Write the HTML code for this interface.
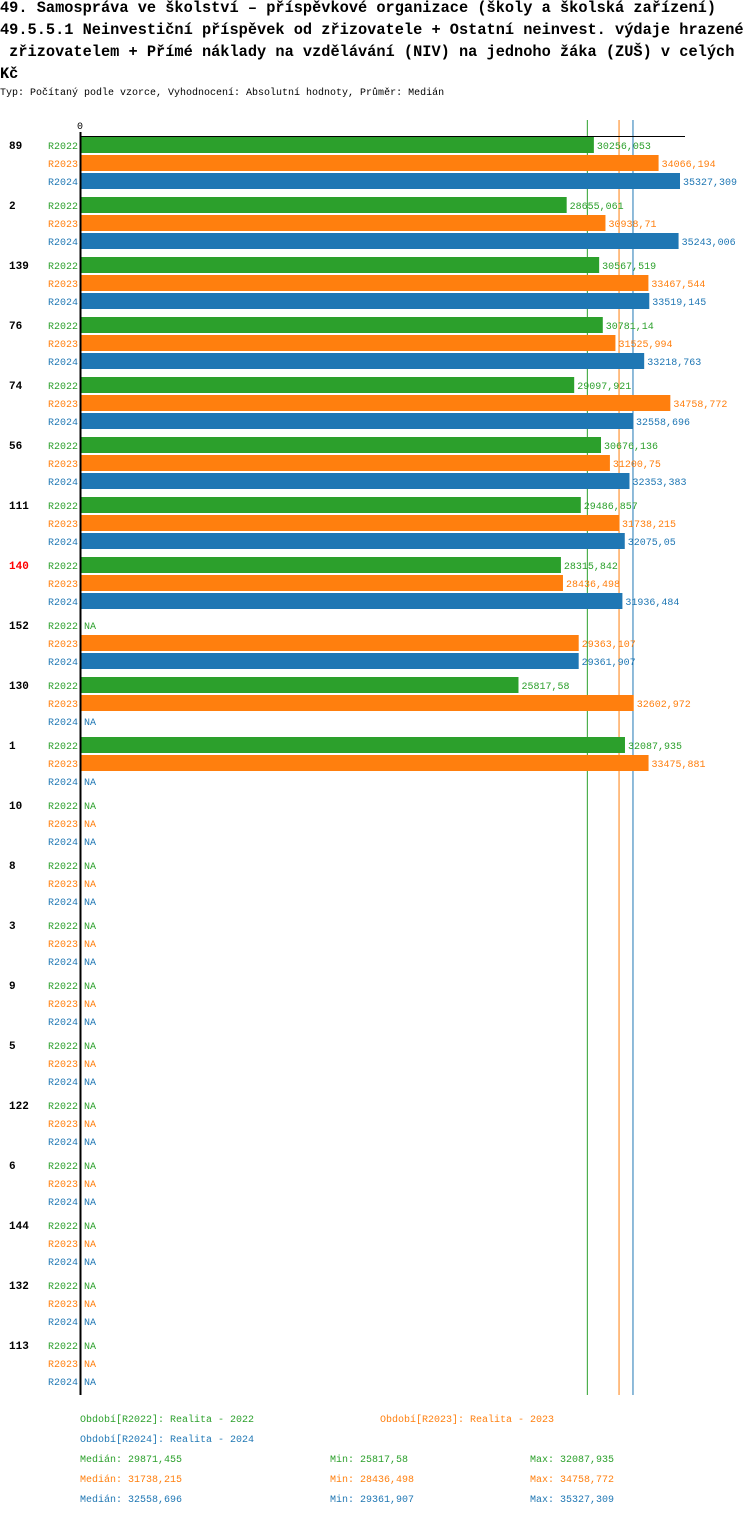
<!DOCTYPE html>
<html><head><meta charset="utf-8"><style>
body{margin:0;background:#fff;width:750px;height:1516px;overflow:hidden;font-family:"Liberation Mono",monospace}
.t{position:absolute;left:0;font-size:15.3px;font-weight:bold;white-space:pre;line-height:22px}
</style></head><body>
<div class="t" style="top:-3px">49. Samospráva ve školství – příspěvkové organizace (školy a školská zařízení)
49.5.5.1 Neinvestiční příspěvek od zřizovatele + Ostatní neinvest. výdaje hrazené
 zřizovatelem + Přímé náklady na vzdělávání (NIV) na jednoho žáka (ZUŠ) v celých
Kč</div>
<div style="position:absolute;top:88px;left:0;font-size:10px">Typ: Počítaný podle vzorce, Vyhodnocení: Absolutní hodnoty, Průměr: Medián</div>
<svg id="c" width="750" height="1516" style="position:absolute;left:0;top:0" font-family="Liberation Mono, monospace" font-size="10"></svg>
<script>
const groups=["89","2","139","76","74","56","111","140","152","130","1","10","8","3","9","5","122","6","144","132","113"];
const series=["R2022","R2023","R2024"];
const r2022=[30256.053,28655.061,30567.519,30781.14,29097.921,30676.136,29486.857,28315.842,null,25817.58,32087.935,null,null,null,null,null,null,null,null,null,null];
const r2023=[34066.194,30938.71,33467.544,31525.994,34758.772,31200.75,31738.215,28436.498,29363.107,32602.972,33475.881,null,null,null,null,null,null,null,null,null,null];
const r2024=[35327.309,35243.006,33519.145,33218.763,32558.696,32353.383,32075.05,31936.484,29361.907,null,null,null,null,null,null,null,null,null,null,null,null];
const medians=[29871.455,31738.215,32558.696];
const colors=["#2ca02c","#ff7f0e","#1f77b4"];
const vals=[r2022,r2023,r2024];
const svg=document.getElementById('c');
const NS="http://www.w3.org/2000/svg";
const x=v=>80+v*600/35327.309;
function mk(t,a,txt){const e=document.createElementNS(NS,t);for(const k in a)e.setAttribute(k,a[k]);if(txt!=null)e.textContent=txt;svg.appendChild(e);return e;}
const fmt=v=>String(v).replace('.',',');
medians.forEach((m,j)=>{
  let l=mk('line',{x1:x(m),x2:x(m),y1:120,y2:1395,stroke:colors[j],'stroke-width':1});
  
  
});
let e=mk('text',{x:80,y:129,'text-anchor':'middle'},'0');


groups.forEach((g,i)=>{
  const gy=136+60*i;
  let t=mk('text',{x:9,y:gy+13,'font-weight':'bold','font-size':11,fill:g==="140"?"#ff0000":"#000"},g);
  
  
  series.forEach((s,j)=>{
    const y=gy+18*j;
    let l=mk('text',{x:78,y:y+13,'text-anchor':'end',fill:colors[j]},s);
    
    
    const v=vals[j][i];
    if(v==null){
      let n=mk('text',{x:84,y:y+13,fill:colors[j]},'NA');
      
      
    }else{
      let b=mk('rect',{x:81,y:y+1,width:x(v)-81,height:16,fill:colors[j]});
      
      
      let n=mk('text',{x:x(v)+3,y:y+13,fill:colors[j]},fmt(v));
      
      
    }
  });
});
let ax=mk('line',{x1:80,x2:685,y1:136.5,y2:136.5,stroke:'#000','stroke-width':1});


let ay=mk('line',{x1:80.5,x2:80.5,y1:132,y2:1395,stroke:'#000','stroke-width':2});


const legend=[["Období[R2022]: Realita - 2022",80,1422,0],["Období[R2023]: Realita - 2023",380,1422,1],["Období[R2024]: Realita - 2024",80,1442,2]];
legend.forEach(a=>{let t=mk('text',{x:a[1],y:a[2],fill:colors[a[3]]},a[0]);

});
const mins=["25817,58","28436,498","29361,907"];
const maxs=["32087,935","34758,772","35327,309"];
const meds=["29871,455","31738,215","32558,696"];
[0,1,2].forEach(j=>{const y=1462+20*j;
let a=mk('text',{x:80,y:y,fill:colors[j]},'Medián: '+meds[j]);


let b=mk('text',{x:330,y:y,fill:colors[j]},'Min: '+mins[j]);


let c=mk('text',{x:530,y:y,fill:colors[j]},'Max: '+maxs[j]);

});
</script>
</body></html>
